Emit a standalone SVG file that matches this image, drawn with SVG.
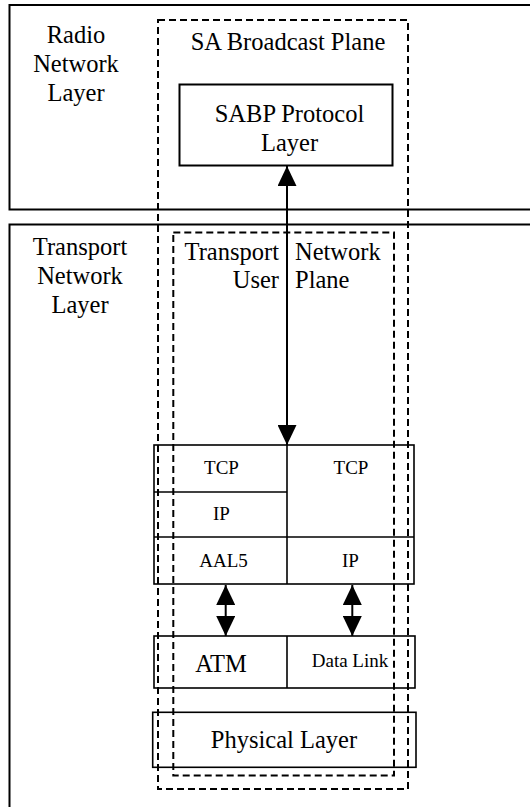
<svg xmlns="http://www.w3.org/2000/svg" width="530" height="807" viewBox="0 0 530 807">
<defs>
<style>
.solid{fill:none;stroke:#000;stroke-width:2}
.cell{fill:none;stroke:#000;stroke-width:1.6}
.dash{fill:none;stroke:#000;stroke-width:2;stroke-dasharray:7,4}
.big{font-family:"Liberation Serif","Times New Roman",serif;font-size:24.5px;fill:#000}
.small{font-family:"Liberation Serif","Times New Roman",serif;font-size:19px;fill:#000}
.c{text-anchor:middle}
.r{text-anchor:end}
.conn{stroke:#000;stroke-width:2;fill:none}
</style>
<marker id="ah" markerUnits="userSpaceOnUse" markerWidth="20" markerHeight="19" refX="20" refY="9.5" orient="auto-start-reverse" viewBox="0 0 20 19">
<path d="M0,0 L20,9.5 L0,19 Z" fill="#000"/>
</marker>
</defs>
<rect width="530" height="807" fill="#fff"/>

<g id="radio-network-layer">
<rect class="solid" x="9.5" y="5" width="600" height="204.5"/>
<text class="big c" x="76" y="43">Radio</text>
<text class="big c" x="76" y="72">Network</text>
<text class="big c" x="76" y="101">Layer</text>
</g>

<g id="transport-network-layer">
<rect class="solid" x="9.5" y="224.5" width="600" height="700"/>
<text class="big c" x="80" y="255">Transport</text>
<text class="big c" x="80" y="284">Network</text>
<text class="big c" x="80" y="313">Layer</text>
</g>

<g id="sa-broadcast-plane">
<rect class="dash" x="158" y="20" width="250" height="769"/>
<text class="big c" x="288" y="50">SA Broadcast Plane</text>
</g>

<g id="transport-network-user-plane">
<rect class="dash" x="173.3" y="232.5" width="220.7" height="543"/>
<text class="big r" x="279" y="260">Transport</text>
<text class="big r" x="279" y="287.5">User</text>
<text class="big" x="295" y="260">Network</text>
<text class="big" x="295" y="287.5">Plane</text>
</g>

<g id="sabp-protocol-layer">
<rect class="solid" x="179.5" y="84.5" width="213" height="81"/>
<text class="big c" x="289.5" y="122">SABP Protocol</text>
<text class="big c" x="289.5" y="150.5">Layer</text>
</g>

<g id="upper-stack">
<rect class="cell" x="154" y="445" width="260" height="139"/>
<line class="cell" x1="287" y1="445" x2="287" y2="584"/>
<line class="cell" x1="154" y1="492" x2="287" y2="492"/>
<line class="cell" x1="154" y1="537" x2="414" y2="537"/>
<text class="small c" x="221.5" y="474">TCP</text>
<text class="small c" x="351" y="474">TCP</text>
<text class="small c" x="221.5" y="520">IP</text>
<text class="small c" x="223.5" y="567">AAL5</text>
<text class="small c" x="350.5" y="567">IP</text>
</g>

<g id="link-layer">
<rect class="cell" x="154" y="636" width="261" height="52"/>
<line class="cell" x1="287" y1="636" x2="287" y2="688"/>
<text class="big c" x="221" y="672">ATM</text>
<text class="small c" x="350" y="667">Data Link</text>
</g>

<g id="physical-layer">
<rect class="cell" x="152.7" y="712.3" width="263.3" height="55"/>
<text class="big c" x="284" y="748">Physical Layer</text>
</g>

<g id="connectors">
<line class="conn" x1="287" y1="166" x2="287" y2="445" marker-start="url(#ah)" marker-end="url(#ah)"/>
<line class="conn" x1="225.7" y1="585" x2="225.7" y2="636" marker-start="url(#ah)" marker-end="url(#ah)"/>
<line class="conn" x1="352.3" y1="585" x2="352.3" y2="636" marker-start="url(#ah)" marker-end="url(#ah)"/>
</g>
</svg>
